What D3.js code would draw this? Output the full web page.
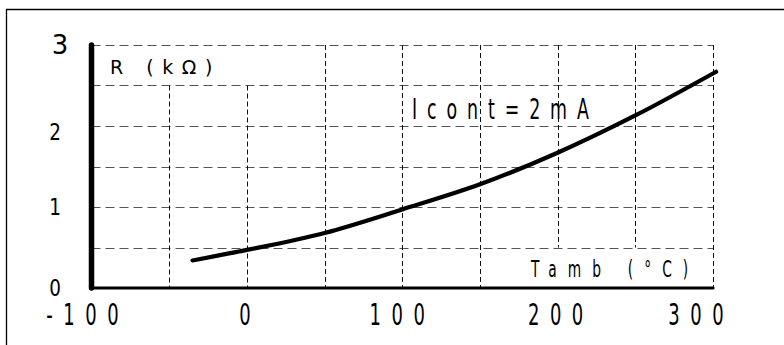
<!DOCTYPE html>
<html>
<head>
<meta charset="utf-8">
<script src="https://cdn.jsdelivr.net/npm/d3@7"></script>
<style>
  html, body { margin: 0; padding: 0; background: #fff; }
  svg { display: block; }
  text { font-family: "DejaVu Sans", sans-serif; fill: #000; }
</style>
</head>
<body>
<svg id="chart" width="784" height="345"></svg>
<script>
// Resistance vs ambient temperature at constant current
const tempC = [-35, 0, 50, 100, 150, 200, 250, 302];
const resistanceK = [0.34, 0.47, 0.68, 0.97, 1.28, 1.67, 2.13, 2.67];

const xTicks = [-100, 0, 100, 200, 300];
const xTickLabels = ["-100", "0", "100", "200", "300"];
const yTicks = [0, 1, 2, 3];
const yTickLabels = ["0", "1", "2", "3"];
const xGrid = [-50, 0, 50, 100, 150, 200, 250, 300];
const yGrid = [0.5, 1, 1.5, 2, 2.5, 3];

const yAxisTitle = "R (kΩ)";
const xAxisTitle = "Tamb (°C)";
const curveLabel = "Icont=2mA";

const svg = d3.select("#chart");

const x = d3.scaleLinear().domain([-100, 300]).range([91.5, 713]);
const y = d3.scaleLinear().domain([0, 3]).range([288, 45]);

// narrow, widely spaced lettering: horizontally compressed text
function label(parent, str, px, py, opts) {
  const { size, sx = 0.6, ls = 0, anchor = "start" } = opts;
  const g = parent.append("g").attr("transform", `translate(${px},${py}) scale(${sx},1)`);
  const t = g.append("text")
    .attr("font-size", size)
    .attr("letter-spacing", ls)
    .attr("text-anchor", anchor)
    .text(str);
  if (anchor === "middle") t.attr("dx", ls / 2);
  if (anchor === "end") t.attr("dx", ls);
  return t;
}

// frame
svg.append("path")
  .attr("d", "M6.5,345 L6.5,9.5 L784,9.5")
  .attr("fill", "none").attr("stroke", "#000").attr("stroke-width", 1.3);

// horizontal grid lines
svg.append("g").selectAll("line").data(yGrid).join("line")
  .attr("x1", x(-100)).attr("x2", x(300))
  .attr("y1", d => Math.round(y(d)) + 0.5).attr("y2", d => Math.round(y(d)) + 0.5)
  .attr("stroke", "#555").attr("stroke-width", 1.1)
  .attr("stroke-dasharray", "9,5");

// vertical grid lines, leaving the axis-title areas clear
svg.append("g").selectAll("line").data(xGrid).join("line")
  .attr("x1", d => Math.round(x(d)) + 0.5).attr("x2", d => Math.round(x(d)) + 0.5)
  .attr("y1", d => (d < 50 ? y(2.5) : y(3)))
  .attr("y2", d => (d >= 200 && d < 300 ? y(0.5) : y(0)))
  .attr("stroke", "#111").attr("stroke-width", 1)
  .attr("stroke-dasharray", "5,3");

// axes
svg.append("line")
  .attr("x1", x(-100)).attr("x2", x(300)).attr("y1", y(0)).attr("y2", y(0))
  .attr("stroke", "#000").attr("stroke-width", 3.2).attr("stroke-linecap", "round");
svg.append("line")
  .attr("x1", x(-100)).attr("x2", x(-100)).attr("y1", y(0)).attr("y2", y(3))
  .attr("stroke", "#000").attr("stroke-width", 5.5).attr("stroke-linecap", "round");

// curve
const line = d3.line()
  .x((d, i) => x(tempC[i]))
  .y(d => y(d))
  .curve(d3.curveMonotoneX);
svg.append("path")
  .datum(resistanceK)
  .attr("d", line)
  .attr("fill", "none").attr("stroke", "#000").attr("stroke-width", 4.2)
  .attr("stroke-linecap", "round");

// y tick labels
const yLab = svg.append("g");
yTicks.forEach((d, i) => {
  const big = d === 3;
  label(yLab, yTickLabels[i], big ? 60 : 55, y(d) + (big ? 9 : 8) + (d === 2 ? 6 : 0),
    { size: big ? 26 : 23, sx: big ? 1.0 : 0.8, anchor: "middle" });
});

// x tick labels
const xLab = svg.append("g");
const last = xTicks.length - 1;
xTicks.forEach((d, i) => {
  const shift = i === 0 ? -9 : i === last ? -17 : d === 100 ? -5 : -2;
  label(xLab, xTickLabels[i], x(d) + shift, 325, { size: 30, sx: 0.6, ls: 17.5, anchor: "middle" });
});

// axis titles and curve label
label(svg, yAxisTitle, 110, 74, { size: 20, sx: 0.95, ls: 9 });
label(svg, xAxisTitle, 531, 277, { size: 23, sx: 0.6, ls: 18.5 });
label(svg, curveLabel, 412, 119, { size: 29, sx: 0.6, ls: 16.5 });
</script>
</body>
</html>
